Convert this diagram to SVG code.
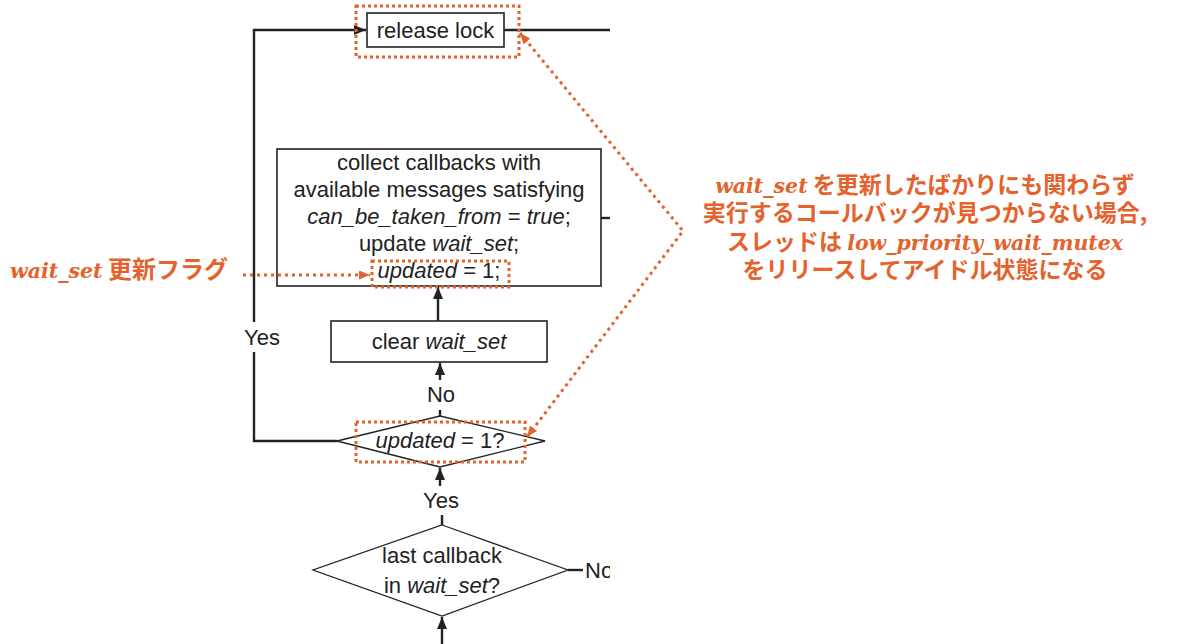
<svg xmlns="http://www.w3.org/2000/svg" width="1179" height="644" viewBox="0 0 1179 644">
<defs>
<style>
.t{font-family:"Liberation Sans",Arial,sans-serif;font-size:22px;fill:#222;text-anchor:middle}
.i{font-style:italic}
.box{fill:#fff;stroke:#222;stroke-width:1.6}
.dia{fill:#fff;stroke:#222;stroke-width:1.3}
.ln{fill:none;stroke:#222;stroke-width:2.4}
.hl{fill:none;stroke:#E4622C;stroke-width:3;stroke-dasharray:3 3}
.od{fill:none;stroke:#E4622C;stroke-width:3;stroke-dasharray:3 4}
.jp{font-family:"Noto Sans CJK JP",sans-serif;font-size:23px;fill:#E4622C;font-weight:bold}
.lat{font-family:"DejaVu Serif",serif;font-style:italic;font-weight:bold;font-size:20.5px}
</style>
<marker id="ab" markerUnits="userSpaceOnUse" markerWidth="12" markerHeight="12" refX="12" refY="5" orient="auto"><path d="M0,0 L12,5 L0,10 z" fill="#222"/></marker>
<marker id="ao" markerUnits="userSpaceOnUse" markerWidth="12" markerHeight="12" refX="11" refY="4.5" orient="auto-start-reverse"><path d="M0,0 L11,4.5 L0,9 z" fill="#E4622C"/></marker>
<clipPath id="clip"><rect x="0" y="0" width="610" height="644"/></clipPath>
</defs>

<g id="connectors" clip-path="url(#clip)">
<path class="ln" d="M337,441 H254 V352"/>
<path class="ln" d="M254,322 V30 H366" marker-end="url(#ab)"/>
<path class="ln" d="M504,30 H610"/>
<path class="ln" d="M601,218 H610"/>
<path class="ln" d="M438,321 V287" marker-end="url(#ab)"/>
<path class="ln" d="M440,380 V363" marker-end="url(#ab)"/>
<path class="ln" d="M440,410 V416"/>
<path class="ln" d="M440,486 V468" marker-end="url(#ab)"/>
<path class="ln" d="M442,515 V525"/>
<path class="ln" d="M442,644 V617" marker-end="url(#ab)"/>
<path class="ln" d="M568,570 H583"/>
</g>

<g id="release-lock">
<rect class="box" x="367" y="13" width="137" height="34"/>
<text class="t" x="435.5" y="38">release lock</text>
</g>

<g id="collect">
<rect class="box" x="277" y="149" width="324" height="137"/>
<text class="t" x="439" y="170">collect callbacks with</text>
<text class="t" x="439" y="197">available messages satisfying</text>
<text class="t" x="439" y="224"><tspan class="i">can_be_taken_from</tspan> = <tspan class="i">true</tspan>;</text>
<text class="t" x="439" y="251">update <tspan class="i">wait_set</tspan>;</text>
<text class="t" x="439" y="278"><tspan class="i">updated</tspan> = 1;</text>
</g>

<g id="clear">
<rect class="box" x="331" y="321" width="216" height="41"/>
<text class="t" x="439" y="349">clear <tspan class="i">wait_set</tspan></text>
</g>

<g id="updated-check">
<path class="dia" d="M440,416 L545,441 L440,467 L337,441 z"/>
<text class="t" x="440" y="448"><tspan class="i">updated</tspan> = 1?</text>
</g>

<g id="last-callback">
<path class="dia" d="M442,525 L568,570 L442,616 L313,570 z"/>
<text class="t" x="442" y="563">last callback</text>
<text class="t" x="442" y="593">in <tspan class="i">wait_set</tspan>?</text>
</g>

<g id="labels" clip-path="url(#clip)">
<text class="t" x="262" y="345">Yes</text>
<text class="t" x="441" y="402">No</text>
<text class="t" x="441" y="508">Yes</text>
<text class="t" x="585" y="578" style="text-anchor:start">No</text>
</g>

<g id="annotations">
<rect class="hl" x="356" y="6" width="163" height="51"/>
<rect class="hl" x="372" y="261" width="137" height="26"/>
<rect class="hl" x="356" y="422" width="169" height="40"/>
<path class="od" d="M243,275 H370" marker-end="url(#ao)"/>
<polyline class="od" points="520,33 683,231 527,437" marker-start="url(#ao)" marker-end="url(#ao)"/>
<text class="jp" x="10" y="278" style="font-size:24px"><tspan class="lat">wait_set</tspan> 更新フラグ</text>
<text class="jp" x="925" y="193" text-anchor="middle"><tspan class="lat">wait_set</tspan> を更新したばかりにも関わらず</text>
<text class="jp" x="925" y="221" text-anchor="middle">実行するコールバックが見つからない場合,</text>
<text class="jp" x="925" y="250" text-anchor="middle">スレッドは <tspan class="lat">low_priority_wait_mutex</tspan></text>
<text class="jp" x="925" y="278" text-anchor="middle">をリリースしてアイドル状態になる</text>
</g>
</svg>
